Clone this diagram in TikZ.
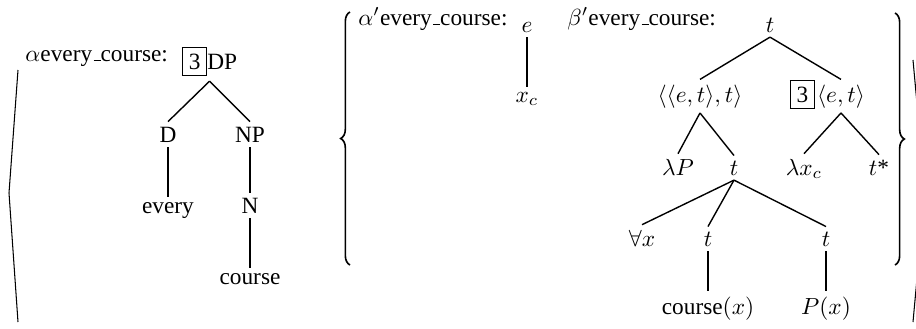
\documentclass[tikz,border=0pt]{standalone}
\usepackage[no-math]{fontspec}
\setmainfont{Liberation Serif}
\usetikzlibrary{positioning,decorations.pathreplacing}
\newcommand{\usc}{\leavevmode\kern.06em\vbox{\hrule width.3em}}
\setlength{\fboxsep}{2.3pt}
\setlength{\fboxrule}{0.65pt}
\tikzset{
  treenode/.style={
    inner sep=2pt,
    anchor=base
  },
  headline/.style={
    inner sep=0pt,
    anchor=base west
  },
  treeline/.style={line width=0.6pt},
  bracebar/.style={
    line width=0.7pt,
    decorate,
    decoration={brace, amplitude=4pt}
  },
  anglebar/.style={line width=0.45pt}
}

\begin{document}
\begin{tikzpicture}[x=0.429pt, y=-0.429pt]
  \useasboundingbox (0,0) rectangle (916,328);
  % outer angle brackets
  \draw[anglebar] (18,70) -- (9,193) -- (18,322);
  \draw[anglebar] (913,60) -- (925,191) -- (913,322);
  % inner braces
  \draw[bracebar] (350,265) -- (350,12);
  \draw[bracebar] (895,13) -- (895,265);

  % alpha: syntactic tree
  \node[headline] (alab) at (25,61) {$\alpha$every\usc course:};
  \node[treenode] (dp) at (209.5,69) {\fbox{3}DP};
  \node[treenode] (d) at (168,142) {D};
  \node[treenode] (np) at (250,142) {NP};
  \node[treenode] (every) at (168,213) {every};
  \node[treenode] (n) at (250,213) {N};
  \node[treenode] (course) at (250,284) {course};
  \draw[treeline] (dp.south) -- (d.north);
  \draw[treeline] (dp.south) -- (np.north);
  \draw[treeline] (d.south) -- (every.north);
  \draw[treeline] (np.south) -- (n.north);
  \draw[treeline] (n.south) -- (course.north);

  % alpha': semantic tree
  \node[headline] (alabp) at (358,25) {$\alpha'$every\usc course:};
  \node[treenode] (e) at (527,32) {$e$};
  \node[treenode] (xc) at (527,102) {$x_c$};
  \draw[treeline] (e.south) -- (xc.north);

  % beta': semantic tree
  \node[headline] (blabp) at (567,25) {$\beta'$every\usc course:};
  \node[treenode] (t0) at (770,32) {$t$};
  \node[treenode] (gq) at (700,102) {$\langle\langle e,t\rangle,t\rangle$};
  \node[treenode] (et) at (841,102) {$\langle e,t\rangle$};
  \node[inner sep=0pt, anchor=base east] (box) at ([xshift=1.6pt]et.base west) {\fbox{3}};
  \node[treenode] (lamp) at (678,175) {$\lambda P$};
  \node[treenode] (t1) at (734,175) {$t$};
  \node[treenode] (lamx) at (804,175) {$\lambda x_c$};
  \node[treenode] (tstar) at (879,175) {$t$*};
  \node[treenode] (all) at (642,246) {$\forall x$};
  \node[treenode] (t2) at (708,246) {$t$};
  \node[treenode] (t3) at (826,246) {$t$};
  \node[treenode] (cx) at (708,314) {course$(x)$};
  \node[treenode] (px) at (826,314) {$P(x)$};
  \draw[treeline] (t0.south) -- (gq.north);
  \draw[treeline] (t0.south) -- (et.north);
  \draw[treeline] (gq.south) -- (lamp.north);
  \draw[treeline] (gq.south) -- (t1.north);
  \draw[treeline] (et.south) -- (lamx.north);
  \draw[treeline] (et.south) -- (tstar.north);
  \draw[treeline] (t1.south) -- (all.north);
  \draw[treeline] (t1.south) -- (t2.north);
  \draw[treeline] (t1.south) -- (t3.north);
  \draw[treeline] (t2.south) -- (cx.north);
  \draw[treeline] (t3.south) -- (px.north);
\end{tikzpicture}
\end{document}
